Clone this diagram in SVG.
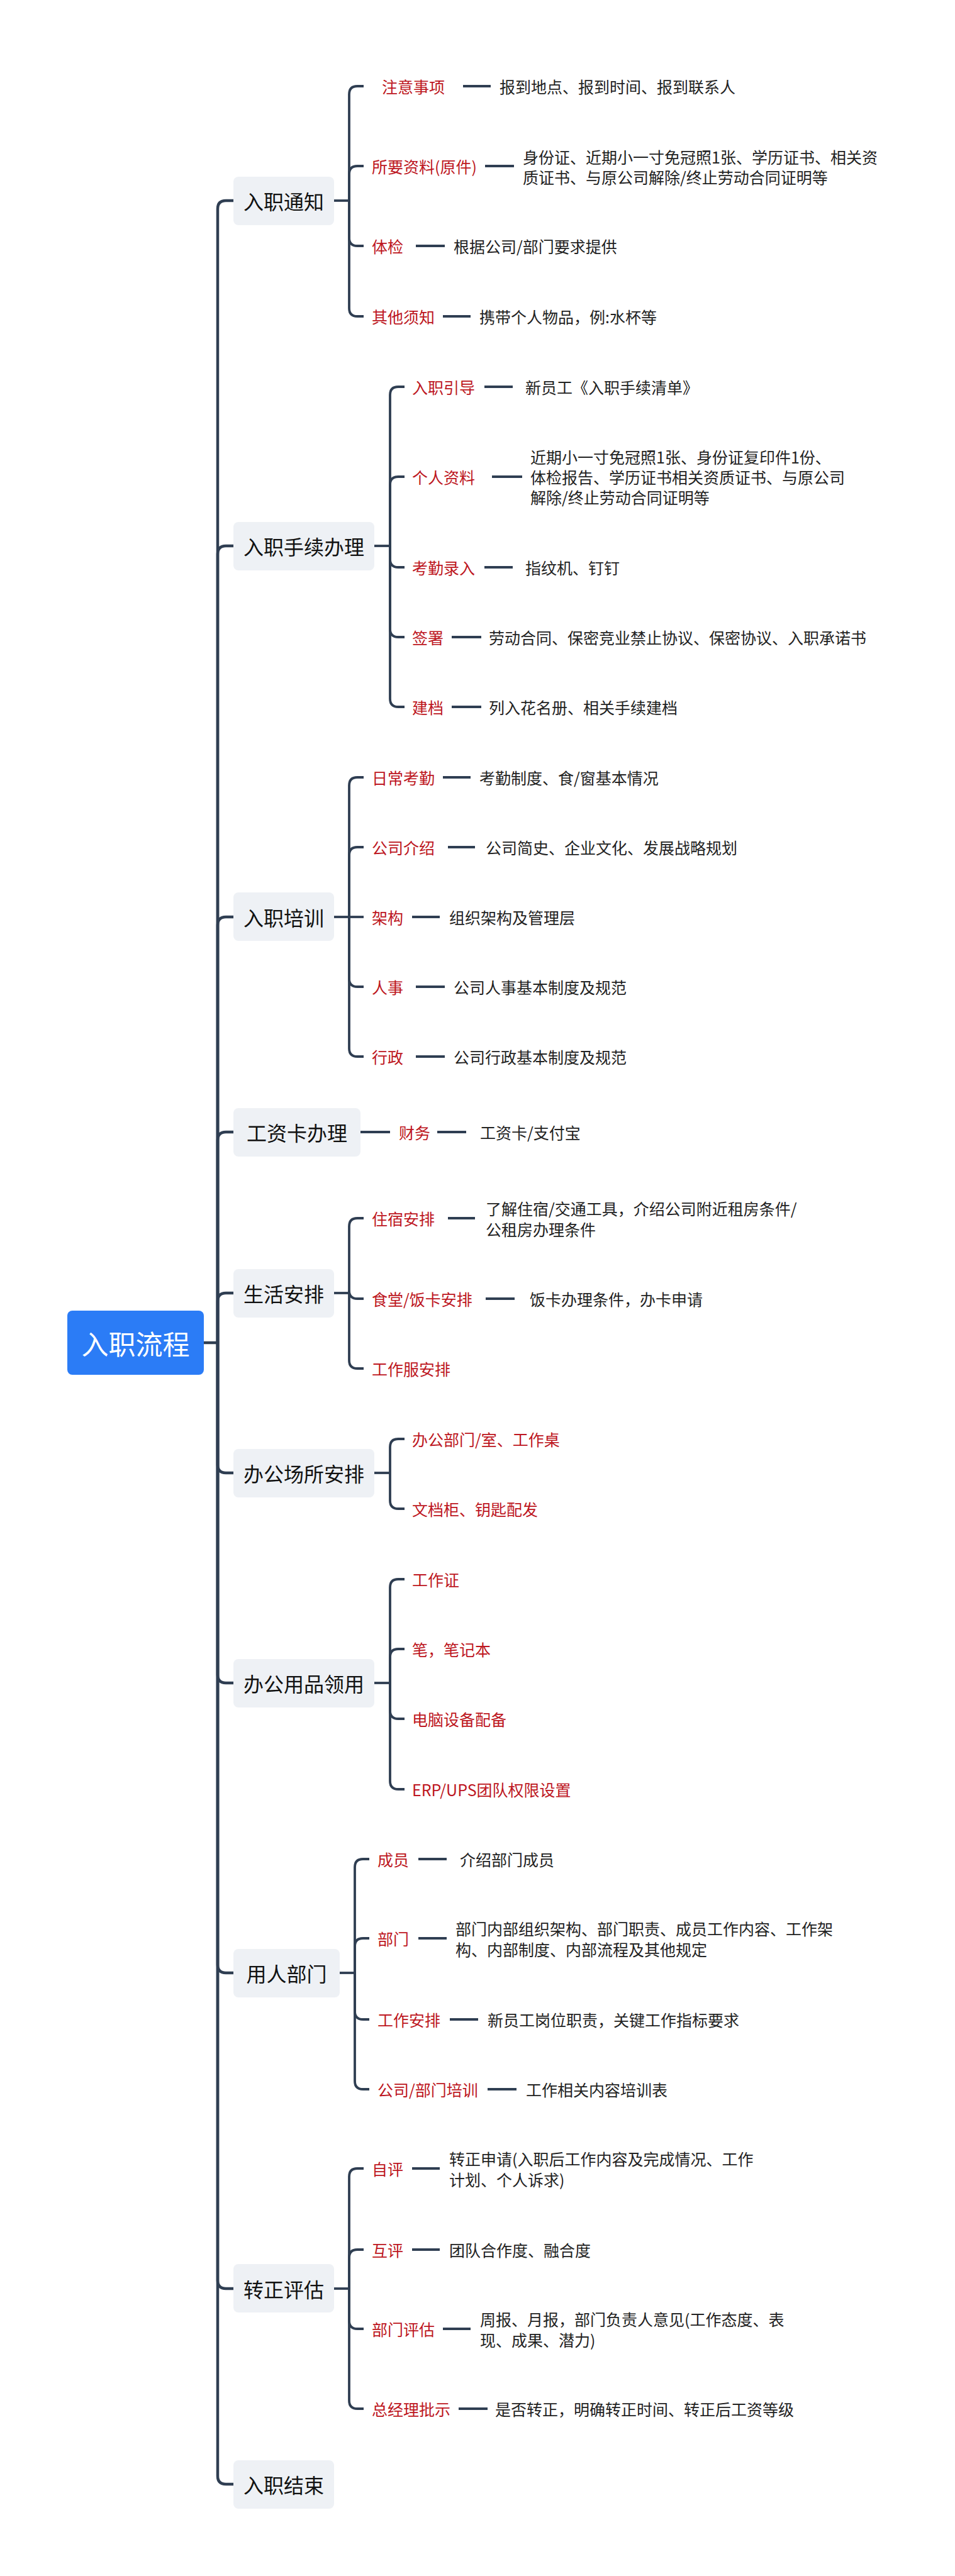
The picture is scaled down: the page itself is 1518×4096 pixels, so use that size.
<svg xmlns="http://www.w3.org/2000/svg" width="1518" height="4096" viewBox="0 0 1518 4096">
<style>
text{font-family:"Noto Sans CJK SC","Noto Sans",sans-serif;dominant-baseline:central}
.root{fill:#2b7cf6}
.rt{fill:#fff;font-size:43px;text-anchor:middle}
.l1{fill:#eef1f5}
.l1t{fill:#111;font-size:32px;text-anchor:middle}
.lab{fill:#bd1621;font-size:25px}
.txt{fill:#222;font-size:25px}
.c{fill:none;stroke:#2f3e52;stroke-width:3.8;stroke-linecap:butt}
.tr{fill:none;stroke:#2f3e52;stroke-width:4.5}
</style>
<rect width="1518" height="4096" fill="#fff"/>
<g id="connectors">
<!-- trunk -->
<path class="tr" d="M324,2135 H346"/>
<path class="tr" d="M346,2135 V332 Q346,319 359,319 H371"/>
<path class="tr" d="M346,2135 V881 Q346,868 359,868 H371"/>
<path class="tr" d="M346,2135 V1471 Q346,1458 359,1458 H371"/>
<path class="tr" d="M346,2135 V1813 Q346,1800 359,1800 H371"/>
<path class="tr" d="M346,2135 V2069 Q346,2056 359,2056 H371"/>
<path class="tr" d="M346,2135 V2329 Q346,2342 359,2342 H371"/>
<path class="tr" d="M346,2135 V2663 Q346,2676 359,2676 H371"/>
<path class="tr" d="M346,2135 V3124 Q346,3137 359,3137 H371"/>
<path class="tr" d="M346,2135 V3626 Q346,3639 359,3639 H371"/>
<path class="tr" d="M346,2135 V3937 Q346,3950 359,3950 H371"/>
<!-- group 1 -->
<path class="c" d="M531,319 H555"/>
<path class="c" d="M555,319 V150 Q555,137 568,137 H578"/>
<path class="c" d="M555,319 V277 Q555,264 568,264 H578"/>
<path class="c" d="M555,319 V378 Q555,391 568,391 H578"/>
<path class="c" d="M555,319 V490 Q555,503 568,503 H578"/>
<path class="c" d="M736,137 H780 M771,264 H817 M661,391 H707 M704,503 H748"/>
<!-- group 2 -->
<path class="c" d="M595,868 H620"/>
<path class="c" d="M620,868 V628 Q620,615 633,615 H643"/>
<path class="c" d="M620,868 V771 Q620,758 633,758 H643"/>
<path class="c" d="M620,868 V889 Q620,902 633,902 H643"/>
<path class="c" d="M620,868 V1000 Q620,1013 633,1013 H643"/>
<path class="c" d="M620,868 V1111 Q620,1124 633,1124 H643"/>
<path class="c" d="M770,615 H815 M782,758 H830 M770,902 H815 M718,1013 H765 M718,1124 H765"/>
<!-- group 3 -->
<path class="c" d="M531,1458 H555"/>
<path class="c" d="M555,1458 V1249 Q555,1236 568,1236 H578"/>
<path class="c" d="M555,1458 V1360 Q555,1347 568,1347 H578"/>
<path class="c" d="M555,1458 H578"/>
<path class="c" d="M555,1458 V1556 Q555,1569 568,1569 H578"/>
<path class="c" d="M555,1458 V1667 Q555,1680 568,1680 H578"/>
<path class="c" d="M704,1236 H748 M712,1347 H755 M655,1458 H699 M661,1569 H707 M661,1680 H707"/>
<!-- group 4 -->
<path class="c" d="M573,1800 H620 M695,1800 H741"/>
<!-- group 5 -->
<path class="c" d="M531,2056 H555"/>
<path class="c" d="M555,2056 V1950 Q555,1937 568,1937 H578"/>
<path class="c" d="M555,2056 V2052 Q555,2065 568,2065 H578"/>
<path class="c" d="M555,2056 V2163 Q555,2176 568,2176 H578"/>
<path class="c" d="M712,1937 H755 M772,2065 H818"/>
<!-- group 6 -->
<path class="c" d="M595,2342 H620"/>
<path class="c" d="M620,2342 V2301 Q620,2288 633,2288 H643"/>
<path class="c" d="M620,2342 V2386 Q620,2399 633,2399 H643"/>
<!-- group 7 -->
<path class="c" d="M595,2676 H620"/>
<path class="c" d="M620,2676 V2524 Q620,2511 633,2511 H643"/>
<path class="c" d="M620,2676 V2635 Q620,2622 633,2622 H643"/>
<path class="c" d="M620,2676 V2720 Q620,2733 633,2733 H643"/>
<path class="c" d="M620,2676 V2832 Q620,2845 633,2845 H643"/>
<!-- group 8 -->
<path class="c" d="M540,3137 H564"/>
<path class="c" d="M564,3137 V2969 Q564,2956 577,2956 H587"/>
<path class="c" d="M564,3137 V3095 Q564,3082 577,3082 H587"/>
<path class="c" d="M564,3137 V3198 Q564,3211 577,3211 H587"/>
<path class="c" d="M564,3137 V3309 Q564,3322 577,3322 H587"/>
<path class="c" d="M665,2956 H710 M665,3082 H710 M715,3211 H760 M775,3322 H821"/>
<!-- group 9 -->
<path class="c" d="M531,3639 H555"/>
<path class="c" d="M555,3639 V3461 Q555,3448 568,3448 H578"/>
<path class="c" d="M555,3639 V3590 Q555,3577 568,3577 H578"/>
<path class="c" d="M555,3639 V3690 Q555,3703 568,3703 H578"/>
<path class="c" d="M555,3639 V3817 Q555,3830 568,3830 H578"/>
<path class="c" d="M655,3448 H699 M655,3577 H699 M704,3703 H748 M729,3830 H775"/>
</g>

<g id="root"><rect class="root" x="107" y="2084" width="217" height="102" rx="8"/><text class="rt" x="215.5" y="2135">入职流程</text></g>

<g id="n1"><rect class="l1" x="371" y="281" width="160" height="77" rx="8"/><text class="l1t" x="451" y="319">入职通知</text></g>
<g id="n1a"><text class="lab" x="607" y="137">注意事项</text><text class="txt" x="794" y="137">报到地点、报到时间、报到联系人</text></g>
<g id="n1b"><text class="lab" x="591" y="264">所要资料(原件)</text><text class="txt" x="831" y="249">身份证、近期小一寸免冠照1张、学历证书、相关资</text><text class="txt" x="831" y="281">质证书、与原公司解除/终止劳动合同证明等</text></g>
<g id="n1c"><text class="lab" x="591" y="391">体检</text><text class="txt" x="721" y="391">根据公司/部门要求提供</text></g>
<g id="n1d"><text class="lab" x="591" y="503">其他须知</text><text class="txt" x="762" y="503">携带个人物品，例:水杯等</text></g>

<g id="n2"><rect class="l1" x="371" y="830" width="224" height="77" rx="8"/><text class="l1t" x="483" y="868">入职手续办理</text></g>
<g id="n2a"><text class="lab" x="655" y="615">入职引导</text><text class="txt" x="835" y="615">新员工《入职手续清单》</text></g>
<g id="n2b"><text class="lab" x="655" y="758">个人资料</text><text class="txt" x="843" y="726">近期小一寸免冠照1张、身份证复印件1份、</text><text class="txt" x="843" y="758">体检报告、学历证书相关资质证书、与原公司</text><text class="txt" x="843" y="790">解除/终止劳动合同证明等</text></g>
<g id="n2c"><text class="lab" x="655" y="902">考勤录入</text><text class="txt" x="835" y="902">指纹机、钉钉</text></g>
<g id="n2d"><text class="lab" x="655" y="1013">签署</text><text class="txt" x="777" y="1013">劳动合同、保密竞业禁止协议、保密协议、入职承诺书</text></g>
<g id="n2e"><text class="lab" x="655" y="1124">建档</text><text class="txt" x="777" y="1124">列入花名册、相关手续建档</text></g>

<g id="n3"><rect class="l1" x="371" y="1419" width="160" height="77" rx="8"/><text class="l1t" x="451" y="1458">入职培训</text></g>
<g id="n3a"><text class="lab" x="591" y="1236">日常考勤</text><text class="txt" x="762" y="1236">考勤制度、食/窗基本情况</text></g>
<g id="n3b"><text class="lab" x="591" y="1347">公司介绍</text><text class="txt" x="772" y="1347">公司简史、企业文化、发展战略规划</text></g>
<g id="n3c"><text class="lab" x="591" y="1458">架构</text><text class="txt" x="714" y="1458">组织架构及管理层</text></g>
<g id="n3d"><text class="lab" x="591" y="1569">人事</text><text class="txt" x="721" y="1569">公司人事基本制度及规范</text></g>
<g id="n3e"><text class="lab" x="591" y="1680">行政</text><text class="txt" x="721" y="1680">公司行政基本制度及规范</text></g>

<g id="n4"><rect class="l1" x="371" y="1762" width="202" height="77" rx="8"/><text class="l1t" x="472" y="1800">工资卡办理</text></g>
<g id="n4a"><text class="lab" x="634" y="1800">财务</text><text class="txt" x="763" y="1800">工资卡/支付宝</text></g>

<g id="n5"><rect class="l1" x="371" y="2018" width="160" height="77" rx="8"/><text class="l1t" x="451" y="2056">生活安排</text></g>
<g id="n5a"><text class="lab" x="591" y="1937">住宿安排</text><text class="txt" x="772" y="1921">了解住宿/交通工具，介绍公司附近租房条件/</text><text class="txt" x="772" y="1954">公租房办理条件</text></g>
<g id="n5b"><text class="lab" x="591" y="2065">食堂/饭卡安排</text><text class="txt" x="842" y="2065">饭卡办理条件，办卡申请</text></g>
<g id="n5c"><text class="lab" x="591" y="2176">工作服安排</text></g>

<g id="n6"><rect class="l1" x="371" y="2304" width="224" height="77" rx="8"/><text class="l1t" x="483" y="2342">办公场所安排</text></g>
<g id="n6a"><text class="lab" x="655" y="2288">办公部门/室、工作桌</text></g>
<g id="n6b"><text class="lab" x="655" y="2399">文档柜、钥匙配发</text></g>

<g id="n7"><rect class="l1" x="371" y="2638" width="224" height="77" rx="8"/><text class="l1t" x="483" y="2676">办公用品领用</text></g>
<g id="n7a"><text class="lab" x="655" y="2511">工作证</text></g>
<g id="n7b"><text class="lab" x="655" y="2622">笔，笔记本</text></g>
<g id="n7c"><text class="lab" x="655" y="2733">电脑设备配备</text></g>
<g id="n7d"><text class="lab" x="655" y="2845">ERP/UPS团队权限设置</text></g>

<g id="n8"><rect class="l1" x="371" y="3099" width="169" height="77" rx="8"/><text class="l1t" x="455.5" y="3137">用人部门</text></g>
<g id="n8a"><text class="lab" x="600" y="2956">成员</text><text class="txt" x="731" y="2956">介绍部门成员</text></g>
<g id="n8b"><text class="lab" x="600" y="3082">部门</text><text class="txt" x="724" y="3066">部门内部组织架构、部门职责、成员工作内容、工作架</text><text class="txt" x="724" y="3099">构、内部制度、内部流程及其他规定</text></g>
<g id="n8c"><text class="lab" x="600" y="3211">工作安排</text><text class="txt" x="775" y="3211">新员工岗位职责，关键工作指标要求</text></g>
<g id="n8d"><text class="lab" x="600" y="3322">公司/部门培训</text><text class="txt" x="836" y="3322">工作相关内容培训表</text></g>

<g id="n9"><rect class="l1" x="371" y="3600" width="160" height="77" rx="8"/><text class="l1t" x="451" y="3639">转正评估</text></g>
<g id="n9a"><text class="lab" x="591" y="3448">自评</text><text class="txt" x="714" y="3432">转正申请(入职后工作内容及完成情况、工作</text><text class="txt" x="714" y="3465">计划、个人诉求)</text></g>
<g id="n9b"><text class="lab" x="591" y="3577">互评</text><text class="txt" x="714" y="3577">团队合作度、融合度</text></g>
<g id="n9c"><text class="lab" x="591" y="3703">部门评估</text><text class="txt" x="763" y="3687">周报、月报，部门负责人意见(工作态度、表</text><text class="txt" x="763" y="3720">现、成果、潜力)</text></g>
<g id="n9d"><text class="lab" x="591" y="3830">总经理批示</text><text class="txt" x="787" y="3830">是否转正，明确转正时间、转正后工资等级</text></g>

<g id="n10"><rect class="l1" x="371" y="3912" width="160" height="77" rx="8"/><text class="l1t" x="451" y="3950">入职结束</text></g>
</svg>
